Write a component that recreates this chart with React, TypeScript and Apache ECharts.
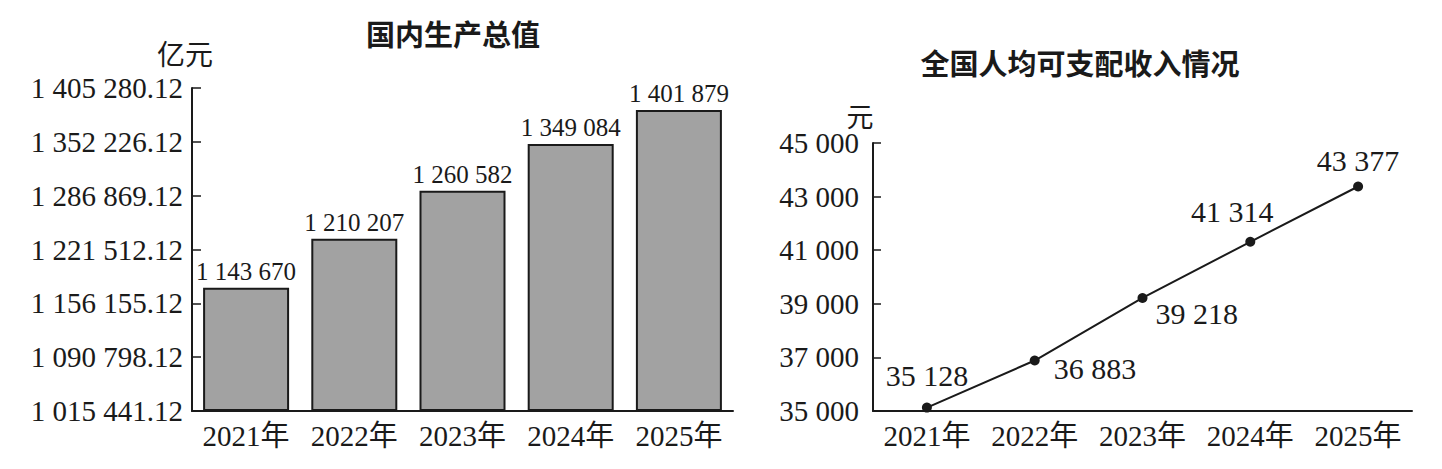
import React, { useEffect, useRef } from "react";
import * as echarts from "echarts";

const years = ["2021年", "2022年", "2023年", "2024年", "2025年"];
// GDP (亿元) shown as bar labels
const gdpValues = [1143670, 1210207, 1260582, 1349084, 1401879];
// y-axis tick labels of the GDP chart (evenly spaced on the page, not to scale)
const gdpTickValues = [1015441.12, 1090798.12, 1156155.12, 1221512.12, 1286869.12, 1352226.12, 1405280.12];
// bar heights as drawn in the picture, measured in tick steps of the axis above
const gdpBarLevels = [2.29, 3.2, 4.09, 4.96, 5.59];
// per-capita disposable income (元)
const incomeValues = [35128, 36883, 39218, 41314, 43377];
const incomeMin = 35000;
const incomeMax = 45000;
const incomeStep = 2000;

const fmt = (n: number): string => {
  const s = String(n);
  const [i, d] = s.split(".");
  const g = i.replace(/\B(?=(\d{3})+(?!\d))/g, " ");
  return d ? g + "." + d : g;
};

const SERIF = "'Liberation Serif', 'Noto Sans CJK SC', serif";
const CJK = "'Noto Sans CJK SC', sans-serif";
const INK = "#1a1a1a";

export default function App() {
  const ref = useRef<HTMLDivElement>(null);
  useEffect(() => {
    document.body.style.margin = "0";
    if (!ref.current) return;
    const chart = echarts.init(ref.current, undefined, { renderer: "svg" });

    const labelCfg = [
      { position: "top", distance: 12, offset: [0, 0] },
      { position: "right", distance: 14, offset: [0, 8] },
      { position: "right", distance: 8, offset: [0, 16] },
      { position: "top", distance: 10, offset: [-18, 0] },
      { position: "top", distance: 6, offset: [0, 0] },
    ];

    const xAxisBase = {
      type: "category",
      data: years,
      boundaryGap: true,
      axisLine: { lineStyle: { color: INK, width: 2 } },
      axisTick: { inside: true, length: 8, interval: 0, lineStyle: { color: INK, width: 1.5 } },
      axisLabel: { color: INK, fontSize: 29, fontFamily: SERIF, margin: 10, interval: 0 },
    };

    chart.setOption({
      animation: false,
      backgroundColor: "#ffffff",
      grid: [
        { left: 192, right: 1442 - 733, top: 88, bottom: 469 - 411 },
        { left: 873, right: 1442 - 1412, top: 143, bottom: 469 - 411 },
      ],
      xAxis: [
        { ...xAxisBase, gridIndex: 0 },
        { ...xAxisBase, gridIndex: 1 },
      ],
      yAxis: [
        {
          type: "value",
          gridIndex: 0,
          min: 0,
          max: gdpTickValues.length - 1,
          interval: 1,
          splitLine: { show: false },
          axisLine: { show: true, lineStyle: { color: INK, width: 2 } },
          axisTick: { show: true, inside: true, length: 9, lineStyle: { color: INK, width: 1.5 } },
          axisLabel: {
            color: INK,
            fontSize: 29,
            fontFamily: SERIF,
            margin: 9,
            formatter: (v: number) => fmt(gdpTickValues[Math.round(v)]),
          },
        },
        {
          type: "value",
          gridIndex: 1,
          min: incomeMin,
          max: incomeMax,
          interval: incomeStep,
          splitLine: { show: false },
          axisLine: { show: true, lineStyle: { color: INK, width: 2 } },
          axisTick: { show: true, inside: true, length: 8, lineStyle: { color: INK, width: 1.5 } },
          axisLabel: {
            color: INK,
            fontSize: 29,
            fontFamily: SERIF,
            margin: 14,
            formatter: (v: number) => fmt(v),
          },
        },
      ],
      series: [
        {
          type: "bar",
          xAxisIndex: 0,
          yAxisIndex: 0,
          barWidth: 86,
          data: gdpBarLevels,
          itemStyle: { color: "#a2a2a2", borderColor: INK, borderWidth: 2 },
          label: {
            show: true,
            position: "top",
            distance: 4,
            color: INK,
            fontSize: 25,
            fontFamily: SERIF,
            formatter: (p: any) => fmt(gdpValues[p.dataIndex]),
          },
        },
        {
          type: "line",
          xAxisIndex: 1,
          yAxisIndex: 1,
          symbol: "circle",
          symbolSize: 10,
          lineStyle: { color: INK, width: 2 },
          itemStyle: { color: INK },
          data: incomeValues.map((v, i) => ({
            value: v,
            label: {
              show: true,
              position: labelCfg[i].position,
              distance: labelCfg[i].distance,
              offset: labelCfg[i].offset,
              color: INK,
              fontSize: 30,
              fontFamily: SERIF,
              formatter: (p: any) => fmt(p.value),
            },
          })),
        },
      ],
      graphic: [
        {
          type: "text",
          x: 453,
          y: 33,
          style: {
            text: "国内生产总值",
            font: `bold 29px ${CJK}`,
            fill: INK,
            textAlign: "center",
            textVerticalAlign: "middle",
          },
        },
        {
          type: "text",
          x: 1080,
          y: 62,
          style: {
            text: "全国人均可支配收入情况",
            font: `bold 29px ${CJK}`,
            fill: INK,
            textAlign: "center",
            textVerticalAlign: "middle",
          },
        },
        {
          type: "text",
          x: 185,
          y: 53,
          style: {
            text: "亿元",
            font: `28px ${CJK}`,
            fill: INK,
            textAlign: "center",
            textVerticalAlign: "middle",
          },
        },
        {
          type: "text",
          x: 860,
          y: 115,
          style: {
            text: "元",
            font: `27px ${CJK}`,
            fill: INK,
            textAlign: "center",
            textVerticalAlign: "middle",
          },
        },
      ],
    });
    return () => chart.dispose();
  }, []);
  return <div ref={ref} style={{ width: 1442, height: 469, overflow: "hidden" }} />;
}
